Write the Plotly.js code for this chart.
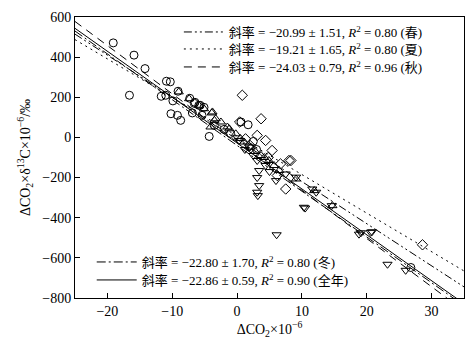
<!DOCTYPE html>
<html>
<head>
<meta charset="utf-8">
<script src="https://cdn.plot.ly/plotly-3.0.1.min.js"></script>
<style>html,body{margin:0;padding:0;background:#fff;}#chart{width:473px;height:343px;}</style>
</head>
<body>
<div id="chart"></div>
<script>
// Scatter data
const circleX = [-19.1,-16.6,-15.9,-14.2,-11.7,-11.0,-10.9,-10.3,-10.2,-9.9,-9.2,-9.1,-8.7,-7.3,-6.9,-6.6,-6.5,-5.9,-5.7,-5.4,-5.1,-4.3,-3.5,-2.0,-1.0,0.6,1.7,2.5,3.0,26.8];
const circleY = [471,210,410,343,205,210,280,277,118,182,110,230,85,195,122,170,175,160,160,110,150,5,60,40,20,77,63,-20,-60,-648];

const triUpX = [-9.0,-7.4,-5.9,-5.1,-3.8,-3.3,-2.5,-1.5,-0.2,-4.1,-3.9,-3.5,-1.2,1.1,2.1,3.7,4.9,5.7,6.5,9.1,11.9,14.7,0.5,2.8,4.2];
const triUpY = [227,193,160,143,127,93,77,52,18,52,122,85,43,-23,-48,-90,-115,-140,-165,-207,-265,-340,-5,-70,-100];

const triDownX = [3.1,3.4,3.1,3.4,3.1,3.2,10.3,1.9,0.3,4.4,6.0,7.5,6.1,10.5,11.6,12.2,14.6,18.8,20.8,23.2,26.0,19.1,20.6,9.1,2.5,5.0,1.2];
const triDownY = [-115,-165,-200,-240,-273,-290,-348,-48,-15,-140,-215,-182,-485,-352,-257,-273,-340,-482,-470,-632,-662,-475,-473,-198,-90,-170,-60];

const diamondX = [0.8,3.7,0.4,8.0,7.5,3.1,4.4,1.3,5.4,6.7,6.2,8.3,28.6,2.0,4.8];
const diamondY = [210,93,77,-115,-257,10,-15,-7,-65,-132,-190,-115,-535,-40,-100];

// Regression lines: slopes (from legend) and intercepts
const lineNames = [
  '斜率 = −20.99 ± 1.51, <i>R</i><sup>2</sup> = 0.80 (春)',
  '斜率 = −19.21 ± 1.65, <i>R</i><sup>2</sup> = 0.80 (夏)',
  '斜率 = −24.03 ± 0.79, <i>R</i><sup>2</sup> = 0.96 (秋)',
  '斜率 = −22.80 ± 1.70, <i>R</i><sup>2</sup> = 0.80 (冬)',
  '斜率 = −22.86 ± 0.59, <i>R</i><sup>2</sup> = 0.90 (全年)'
];
const slopes = [-20.99, -19.21, -24.03, -22.80, -22.86];
const intercepts = [-10, 7, -23, -40, -28];
const dashes = ['8px,3px,2px,3px,2px,3px', '2px,4px', '8px,6px', '9px,3px,2px,3px', 'solid'];
const legendIds = ['legend', 'legend2', 'legend3', 'legend4', 'legend5'];
const xRange = [-25, 35];

const FONT = '"Liberation Serif", "Times New Roman", "Noto Sans CJK SC", serif';

const traces = [];
function pts(x, y, sym, name) {
  traces.push({x: x, y: y, mode: 'markers', type: 'scatter', name: name, showlegend: false,
    marker: {symbol: sym, size: 8, color: 'black', line: {color: 'black', width: 1}}});
}
pts(circleX, circleY, 'circle-open', 'circle');
pts(triUpX, triUpY, 'triangle-up-open', 'triangle-up');
pts(triDownX, triDownY, 'triangle-down-open', 'triangle-down');
pts(diamondX, diamondY, 'diamond-open', 'diamond');

for (let i = 0; i < slopes.length; i++) {
  traces.push({
    x: xRange, y: xRange.map(v => intercepts[i] + slopes[i] * v),
    mode: 'lines', type: 'scatter', name: lineNames[i], legend: legendIds[i],
    line: {color: 'black', width: 1, dash: dashes[i]}
  });
}

const axisCommon = {
  showgrid: false, zeroline: false, showline: true, mirror: true, linecolor: 'black', linewidth: 1,
  ticks: 'inside', ticklen: 5, tickcolor: 'black', tickfont: {family: FONT, size: 14, color: 'black'}
};

function leg(x, y) {
  return {x: x, y: y, xanchor: 'left', yanchor: 'middle', bgcolor: 'rgba(0,0,0,0)',
    font: {family: FONT, size: 13}, tracegroupgap: 0, itemwidth: 40};
}

const layout = {
  width: 473, height: 343,
  margin: {l: 75, r: 9, t: 17, b: 45},
  paper_bgcolor: 'white', plot_bgcolor: 'white',
  font: {family: FONT, size: 14, color: 'black'},
  xaxis: Object.assign({}, axisCommon, {range: xRange, tickvals: [-20,-10,0,10,20,30],
    title: {text: 'ΔCO<sub>2</sub>×10<sup>−6</sup>', font: {family: FONT, size: 14}, standoff: 4}}),
  yaxis: Object.assign({}, axisCommon, {range: [-800, 600], tickvals: [-800,-600,-400,-200,0,200,400,600],
    title: {text: 'ΔCO<sub>2</sub>×δ<sup>13</sup>C×10<sup>−6</sup>/‰', font: {family: FONT, size: 14}, standoff: 8}}),
  legend: leg(0.267, 0.9466),
  legend2: leg(0.267, 0.8861),
  legend3: leg(0.267, 0.8221),
  legend4: leg(0.043, 0.1281),
  legend5: leg(0.043, 0.0641),
  showlegend: true
};

Plotly.newPlot('chart', traces, layout, {displayModeBar: false, staticPlot: true});
</script>
</body>
</html>
